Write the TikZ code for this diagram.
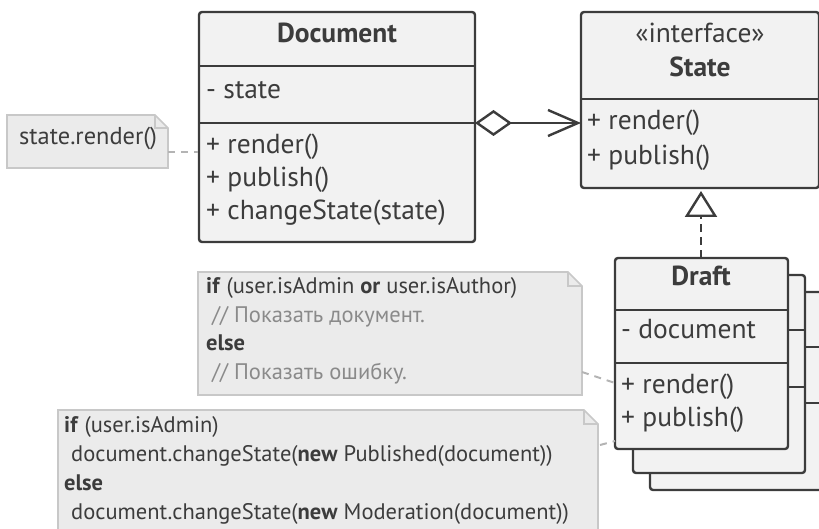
\documentclass[tikz,border=0pt]{standalone}
\usepackage{fontspec}
\setmainfont{PT Sans}
\usetikzlibrary{arrows.meta}
\definecolor{ink}{HTML}{3C3C3C}
\definecolor{boxfill}{HTML}{F2F2F2}
\definecolor{notefill}{HTML}{EBEBEB}
\definecolor{noteline}{HTML}{C8C8C8}
\definecolor{cmt}{HTML}{8A8A8A}
\definecolor{dashc}{HTML}{B4B4B4}
\tikzset{
  cls/.style={draw=ink, fill=boxfill, line width=2.4pt, rounded corners=3pt, inner sep=0pt},
  divider/.style={draw=ink, line width=2.4pt},
  ctext/.style={anchor=mid west, inner sep=0pt, text=ink, font=\fontsize{27.5}{30}\selectfont},
  ctitle/.style={anchor=mid, inner sep=0pt, text=ink, font=\fontsize{27.5}{30}\selectfont\bfseries},
  ntext/.style={anchor=mid west, inner sep=0pt, text=ink, font=\fontsize{22.5}{25}\selectfont},
  notebox/.style={draw=noteline, fill=notefill, line width=1.6pt},
  notelink/.style={draw=dashc, line width=2pt, dash pattern=on 7pt off 6pt},
}
\begin{document}
\begin{tikzpicture}[x=1pt,y=-1pt]
\useasboundingbox (0,0) rectangle (819,529);

% ---------- Document class ----------
\node[cls, minimum width=276pt, minimum height=230pt] (doc) at (337,127) {};
\draw[divider] (199,66) -- (475,66);
\draw[divider] (199,123) -- (475,123);
\node[ctitle] (docT) at (337,40) {Document};
\node[ctext] (docA) at (206,96) {- state};
\node[ctext] (docM1) at (206,151) {+ render()};
\node[ctext] (docM2) at (206,184) {+ publish()};
\node[ctext] (docM3) at (206,217) {+ changeState(state)};

% ---------- State interface ----------
\node[cls, minimum width=238pt, minimum height=176pt] (st) at (700,100) {};
\draw[divider] (581,99) -- (819,99);
\node[anchor=mid, inner sep=0pt, text=ink, font=\fontsize{27.5}{30}\selectfont] (stI) at (700,40) {«interface»};
\node[ctitle] (stT) at (700,74) {State};
\node[ctext] (stM1) at (587,127) {+ render()};
\node[ctext] (stM2) at (587,162) {+ publish()};

% ---------- Draft stack ----------
\node[cls, minimum width=190pt, minimum height=198pt] (dr3) at (745,391) {};
\draw[divider] (650,347) -- (840,347);
\draw[divider] (650,403) -- (840,403);
\node[cls, minimum width=172pt, minimum height=198pt] (dr2) at (719,374) {};
\draw[divider] (633,330) -- (805,330);
\draw[divider] (633,387) -- (805,387);
\node[cls, minimum width=173pt, minimum height=191pt] (dr) at (701.5,353.5) {};
\draw[divider] (615,310) -- (788,310);
\draw[divider] (615,363) -- (788,363);
\node[ctitle] (drT) at (701,283) {Draft};
\node[ctext] (drA) at (621,336) {- document};
\node[ctext] (drM1) at (621,391) {+ render()};
\node[ctext] (drM2) at (621,424) {+ publish()};

% ---------- relations ----------
\coordinate (aggS) at (475,123);
\coordinate (aggE) at (581,123);
\draw[ink, line width=2.4pt, {Diamond[open, fill=white, length=37pt, width=26pt, line width=2.4pt]}-{Straight Barb[length=30pt, width=26pt, line width=2.4pt]}] (aggS) -- (aggE);

\coordinate (realS) at (701,258);
\coordinate (realE) at (701,191);
\draw[ink, line width=2.4pt, dash pattern=on 8pt off 5pt, -{Triangle[open, fill=white, length=26pt, width=32pt, line width=2.4pt]}] (realS) -- (realE);

% ---------- notes ----------
\draw[notebox] (7,115) -- (155,115) -- (168,128) -- (168,168) -- (7,168) -- cycle;
\draw[noteline, line width=1.2pt] (155,115) -- (155,128) -- (168,128);
\node[anchor=mid west, inner sep=0pt, text=ink, font=\fontsize{24.4}{27}\selectfont] (n1) at (19,142) {state.render()};
\coordinate (n1e) at (168,152);
\draw[notelink] (n1e) -- (doc.west |- n1e);

\draw[notebox] (198,272) -- (568,272) -- (582,286) -- (582,395) -- (198,395) -- cycle;
\draw[noteline, line width=1.2pt] (568,272) -- (568,286) -- (582,286);
\node[ntext] (n2a) at (206,291) {\textbf{if} (user.isAdmin \textbf{or} user.isAuthor)};
\node[ntext, text=cmt] (n2b) at (212,320) {// Показать документ.};
\node[ntext] (n2c) at (206,348) {\textbf{else}};
\node[ntext, text=cmt] (n2d) at (212,377) {// Показать ошибку.};
\coordinate (n2e) at (582,372);
\coordinate (d2e) at (615,383);
\draw[notelink] (n2e) -- (d2e);

\draw[notebox] (58,410) -- (584,410) -- (598,424) -- (598,540) -- (58,540) -- cycle;
\draw[noteline, line width=1.2pt] (584,410) -- (584,424) -- (598,424);
\node[ntext] (n3a) at (64,430) {\textbf{if} (user.isAdmin)};
\node[ntext] (n3b) at (71,459) {document.changeState(\textbf{new} Published(document))};
\node[ntext] (n3c) at (64,488) {\textbf{else}};
\node[ntext] (n3d) at (71,517) {document.changeState(\textbf{new} Moderation(document))};
\coordinate (n3e) at (600,445);
\coordinate (d3e) at (615,441);
\draw[notelink] (n3e) -- (d3e);
\end{tikzpicture}
\end{document}
